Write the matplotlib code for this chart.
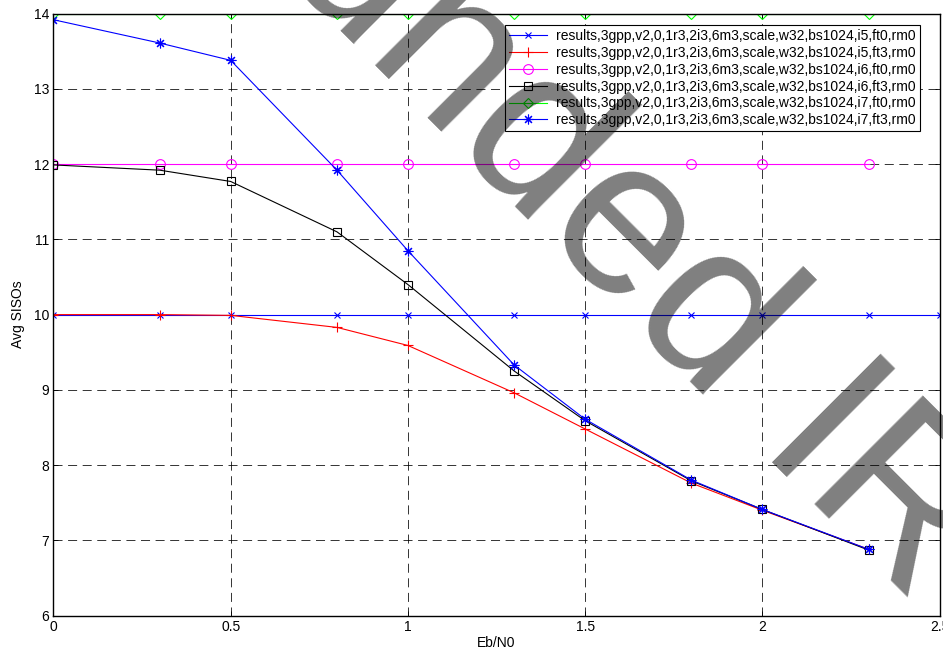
import matplotlib
matplotlib.use("Agg")
import matplotlib.pyplot as plt

plt.rcParams['font.family'] = ['Liberation Sans', 'DejaVu Sans']
plt.rcParams['lines.scale_dashes'] = False

# Eb/N0 sweep points
ebn0 = [0, 0.3, 0.5, 0.8, 1.0, 1.3, 1.5, 1.8, 2.0, 2.3]
ebn0_long = [0, 0.3, 0.5, 0.8, 1.0, 1.3, 1.5, 1.8, 2.0, 2.3, 2.5]

# average number of SISO runs per run configuration
i5_ft0 = [10, 10, 10, 10, 10, 10, 10, 10, 10, 10, 10]
i5_ft3 = [10.0, 10.0, 9.99, 9.83, 9.59, 8.96, 8.48, 7.76, 7.40, 6.88]
i6_ft0 = [12, 12, 12, 12, 12, 12, 12, 12, 12, 12]
i6_ft3 = [11.99, 11.92, 11.77, 11.10, 10.40, 9.25, 8.59, 7.79, 7.41, 6.87]
i7_ft0 = [14, 14, 14, 14, 14, 14, 14, 14, 14, 14]
i7_ft3 = [13.92, 13.61, 13.38, 11.92, 10.85, 9.33, 8.61, 7.80, 7.41, 6.88]

prefix = 'results,3gpp,v2,0,1r3,2i3,6m3,scale,w32,bs1024,'
labels = [prefix + s for s in ['i5,ft0,rm0', 'i5,ft3,rm0', 'i6,ft0,rm0',
                               'i6,ft3,rm0', 'i7,ft0,rm0', 'i7,ft3,rm0']]

fig = plt.figure(figsize=(9.43, 6.53), dpi=100)
ax = fig.add_axes([0.0567, 0.0574, 0.9396, 0.9216])

lw = 0.8
ax.plot(ebn0_long, i5_ft0, color='#0000FF', marker='x', ms=5, mew=0.8, lw=lw, label=labels[0])
ax.plot(ebn0, i5_ft3, color='#FF0000', marker='+', ms=7, mew=0.8, lw=lw, label=labels[1])
ax.plot(ebn0, i6_ft0, color='#FF00FF', marker='o', ms=7, mfc='none', mew=0.8, lw=lw, label=labels[2])
ax.plot(ebn0, i6_ft3, color='black', marker='s', ms=5.5, mfc='none', mew=0.8, lw=lw, label=labels[3])
ax.plot(ebn0, i7_ft0, color='#00FF00', marker='D', ms=5.5, mfc='none', mew=0.8, lw=lw, label=labels[4])
ax.plot(ebn0, i7_ft3, color='#0000FF', marker=(8, 2, 0), ms=7, mew=0.8, lw=lw, label=labels[5])

ax.set_xlim(0, 2.5)
ax.set_ylim(6, 14)
ax.set_xticks([0, 0.5, 1, 1.5, 2, 2.5])
ax.set_xticklabels(['0', '0.5', '1', '1.5', '2', '2.5'])
ax.set_yticks(range(6, 15))

ax.grid(True, color='black', linestyle=(0, (6.5, 4)), linewidth=0.7, alpha=0.8)
ax.tick_params(direction='in', top=True, right=True, length=3.6, width=0.6,
               labelsize=10, pad=3)
for sp in ax.spines.values():
    sp.set_linewidth(1.0)

ax.set_xlabel('Eb/N0', fontsize=10, labelpad=2)
ax.set_ylabel('Avg SISOs', fontsize=10, labelpad=6)

leg = ax.legend(loc='upper right', bbox_to_anchor=(0.978, 0.981), borderaxespad=0,
                fontsize=10, fancybox=False, framealpha=1, edgecolor='black',
                handlelength=2.7, handletextpad=0.7, labelspacing=0.2,
                borderpad=0.3)
leg.get_frame().set_linewidth(0.8)

# translucent diagonal stamp across the plot
fig.text(0.1909, 1.1975, 'Funded IR', fontsize=160, rotation=-45,
         rotation_mode='anchor', ha='left', va='baseline',
         color='black', alpha=0.5, zorder=10)

fig.savefig('out.png', dpi=100)
